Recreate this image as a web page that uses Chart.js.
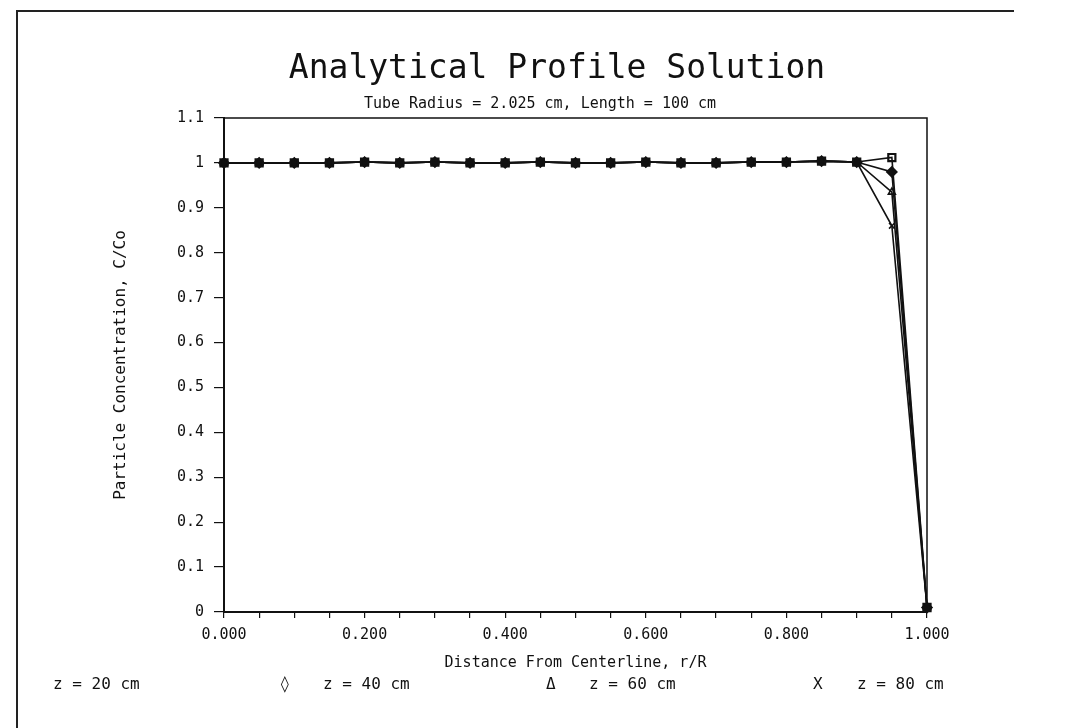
<!DOCTYPE html>
<html>
<head>
<meta charset="utf-8">
<script src="https://cdn.jsdelivr.net/npm/chart.js@4.4.1/dist/chart.umd.min.js"></script>
<style>
    html, body { margin: 0; padding: 0; background: #fff; }
    #wrap { position: relative; width: 1076px; height: 728px; overflow: hidden; }
    #frame { position: absolute; left: 16px; top: 10px; width: 996px; height: 730px;
             border-left: 2px solid #222; border-top: 2px solid #222; }
    canvas { position: absolute; left: 0; top: 0; }
    .txt { position: absolute; font-family: 'DejaVu Sans Mono', monospace; color: #111; white-space: pre; }
    .leg { top: 674px; font-size: 16px; }
    #title { top: 47px; left: 257px; width: 600px; text-align: center; font-size: 33px; line-height: 40px; }
    #subtitle { top: 94px; left: 340px; width: 400px; text-align: center; font-size: 15px; line-height: 18px; }
</style>
</head>
<body>
<div id="wrap">
    <div id="frame"></div>
    <canvas id="profile-chart" width="1076" height="728"></canvas>
    <div class="txt" id="title">Analytical Profile Solution</div>
    <div class="txt" id="subtitle">Tube Radius = 2.025 cm, Length = 100 cm</div>
    <div class="txt leg" style="left:53px">z = 20 cm</div>
    <div class="txt leg" style="left:280px">◊</div>
    <div class="txt leg" style="left:323px">z = 40 cm</div>
    <div class="txt leg" style="left:546px">Δ</div>
    <div class="txt leg" style="left:589px">z = 60 cm</div>
    <div class="txt leg" style="left:813px">X</div>
    <div class="txt leg" style="left:857px">z = 80 cm</div>
</div>
<script>
// r/R positions
const RADIUS = [0, 0.05, 0.1, 0.15, 0.2, 0.25, 0.3, 0.35, 0.4, 0.45, 0.5,
                0.55, 0.6, 0.65, 0.7, 0.75, 0.8, 0.85, 0.9, 0.95, 1.0];

// C/Co for each axial position
const Z20 = [1.000, 1.000, 1.000, 1.000, 1.002, 1.000, 1.002, 1.000, 1.000, 1.002, 1.000,
             1.000, 1.002, 1.000, 1.000, 1.002, 1.002, 1.004, 1.002, 1.012, 0.010];
const Z40 = [1.000, 1.000, 1.000, 1.000, 1.002, 1.000, 1.002, 1.000, 1.000, 1.002, 1.000,
             1.000, 1.002, 1.000, 1.000, 1.002, 1.002, 1.004, 1.002, 0.980, 0.010];
const Z60 = [1.000, 1.000, 1.000, 1.000, 1.002, 1.000, 1.002, 1.000, 1.000, 1.002, 1.000,
             1.000, 1.002, 1.000, 1.000, 1.002, 1.002, 1.004, 1.002, 0.935, 0.010];
const Z80 = [1.000, 1.000, 1.000, 1.000, 1.002, 1.000, 1.002, 1.000, 1.000, 1.002, 1.000,
             1.000, 1.002, 1.000, 1.000, 1.002, 1.002, 1.004, 1.002, 0.860, 0.010];

const SERIES_LABELS = ['z = 20 cm', 'z = 40 cm', 'z = 60 cm', 'z = 80 cm'];

const MONO = "'DejaVu Sans Mono', monospace";
const INK = '#111';

Chart.defaults.color = INK;
Chart.defaults.font.family = MONO;

// Plot box: top and right edges of the chart area
const boxPlugin = {
    id: 'plotBox',
    beforeDatasetsDraw(chart) {
        const { ctx, chartArea: { left, top, right, bottom } } = chart;
        ctx.save();
        ctx.strokeStyle = INK;
        ctx.lineWidth = 1.5;
        ctx.beginPath();
        ctx.moveTo(left, top);
        ctx.lineTo(right, top);
        ctx.lineTo(right, bottom);
        ctx.stroke();
        ctx.restore();
    }
};

function toPoints(values) {
    return RADIUS.map((r, i) => ({ x: r, y: values[i] }));
}

function makeDataset(label, values, style) {
    return Object.assign({
        label,
        data: toPoints(values),
        borderColor: INK,
        borderWidth: 1.6,
        pointBorderColor: INK,
        pointBorderWidth: 1.6,
        tension: 0,
        clip: false,
    }, style);
}

const ctx = document.getElementById('profile-chart');

new Chart(ctx, {
    type: 'line',
    data: {
        datasets: [
            makeDataset(SERIES_LABELS[0], Z20, { pointStyle: 'rect', pointRadius: 5, pointBorderWidth: 2.2, pointBackgroundColor: 'rgba(0,0,0,0)' }),
            makeDataset(SERIES_LABELS[1], Z40, { pointStyle: 'rectRot', pointRadius: 5, pointBackgroundColor: INK }),
            makeDataset(SERIES_LABELS[2], Z60, { pointStyle: 'triangle', pointRadius: 4, pointBackgroundColor: 'rgba(0,0,0,0)' }),
            makeDataset(SERIES_LABELS[3], Z80, { pointStyle: 'crossRot', pointRadius: 4 }),
        ]
    },
    options: {
        responsive: false,
        devicePixelRatio: 1,
        animation: false,
        layout: {
            padding: { left: 107, right: 149, top: 118, bottom: 52 }
        },
        plugins: {
            legend: { display: false },
            tooltip: { enabled: false }
        },
        scales: {
            x: {
                type: 'linear',
                min: 0,
                max: 1,
                afterFit(scale) { scale.height = 64; },
                ticks: {
                    stepSize: 0.05,
                    autoSkip: false,
                    maxRotation: 0,
                    padding: 8,
                    font: { size: 15 },
                    callback(value) {
                        const v = Math.round(value * 100);
                        return v % 20 === 0 ? (v / 100).toFixed(3) : '';
                    }
                },
                grid: {
                    drawOnChartArea: false,
                    drawTicks: true,
                    tickLength: 6,
                    color: INK,
                    lineWidth: 1.2
                },
                border: { display: true, color: INK, width: 2 },
                title: {
                    display: true,
                    text: 'Distance From Centerline, r/R',
                    font: { size: 15 },
                    color: INK
                }
            },
            y: {
                min: 0,
                max: 1.1,
                afterFit(scale) { scale.width = 117; },
                ticks: {
                    stepSize: 0.1,
                    padding: 10,
                    font: { size: 15 },
                    callback(value) {
                        const v = Math.round(value * 10) / 10;
                        return Number.isInteger(v) ? String(v) : v.toFixed(1);
                    }
                },
                grid: {
                    drawOnChartArea: false,
                    drawTicks: true,
                    tickLength: 10,
                    color: INK,
                    lineWidth: 1.2
                },
                border: { display: true, color: INK, width: 2 },
                title: {
                    display: true,
                    text: 'Particle Concentration, C/Co',
                    font: { size: 16 },
                    color: INK
                }
            }
        }
    },
    plugins: [boxPlugin]
});
</script>
</body>
</html>
